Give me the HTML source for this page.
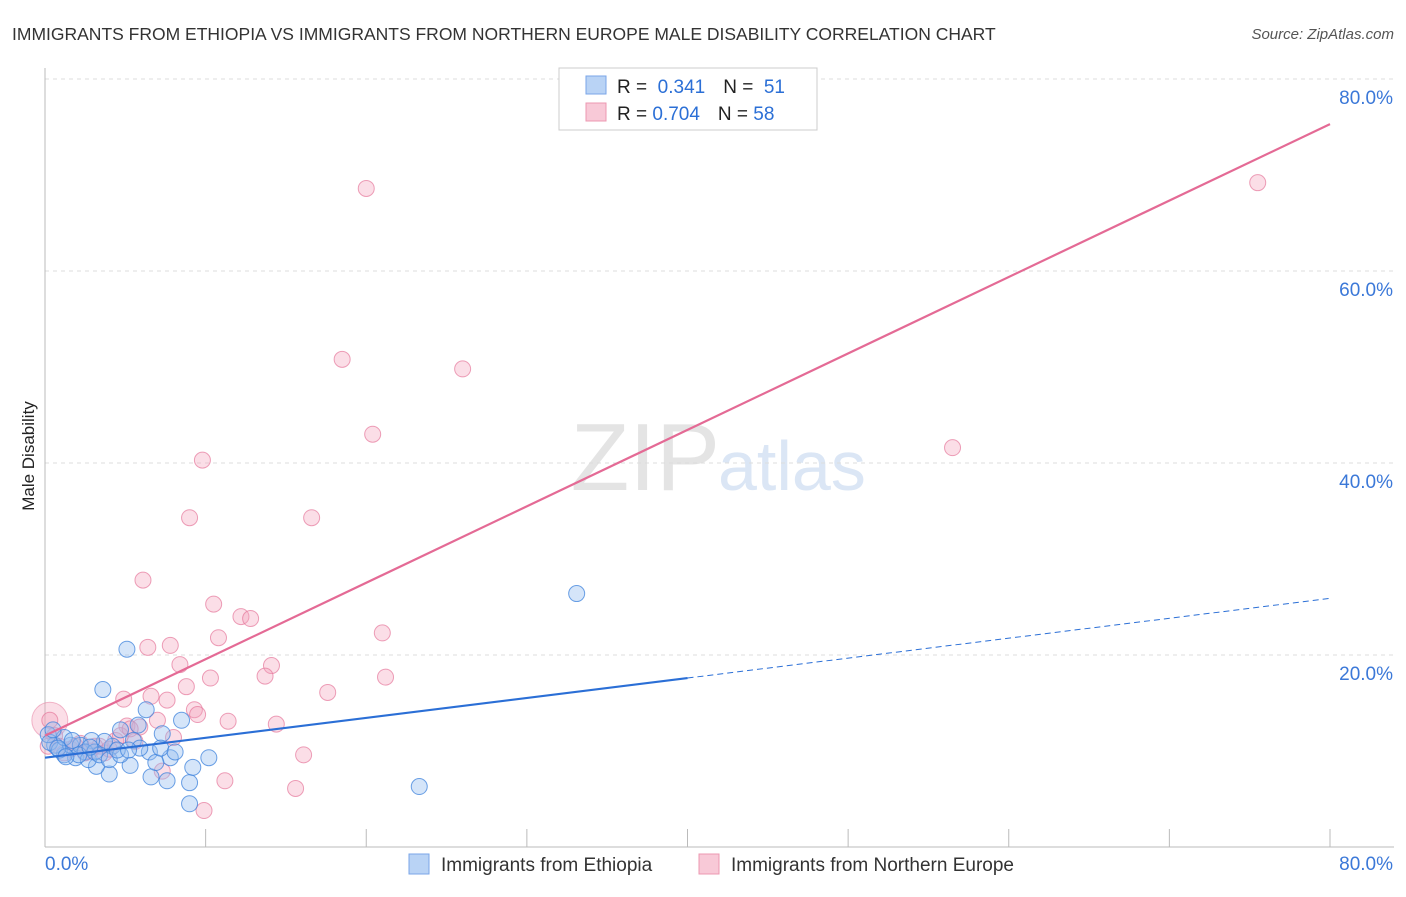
<!DOCTYPE html>
<html><head><meta charset="utf-8"><style>
body{margin:0;background:#fff;font-family:"Liberation Sans",sans-serif;}
svg text{font-family:"Liberation Sans",sans-serif;}
</style></head><body>
<svg width="1406" height="892">
<text x="12" y="40" font-size="17.5" fill="#333">IMMIGRANTS FROM ETHIOPIA VS IMMIGRANTS FROM NORTHERN EUROPE MALE DISABILITY CORRELATION CHART</text>
<text x="1394" y="39" font-size="15" fill="#555" font-style="italic" text-anchor="end">Source: ZipAtlas.com</text>
<text x="34" y="456" font-size="17" fill="#222" text-anchor="middle" transform="rotate(-90 34 456)">Male Disability</text>
<text x="720" y="490" font-size="96" fill="#e4e4e4" text-anchor="end" font-family="Liberation Serif">ZIP</text>
<text x="718" y="490" font-size="70" fill="#dbe6f5">atlas</text>
<g id="grid"></g><g id="axes"></g><g id="pts"></g><g id="lines"></g>
<g>
<rect x="559" y="68" width="258" height="62" fill="#fff" stroke="#ccc"/>
<rect x="586" y="76" width="20" height="18" fill="#b9d3f5" stroke="#7aa6e8"/>
<rect x="586" y="103" width="20" height="18" fill="#f8c9d7" stroke="#ec98b2"/>
<text x="617" y="93" font-size="19" fill="#222">R = <tspan fill="#2b6fd6">&#160;0.341</tspan><tspan dx="18">N = </tspan><tspan fill="#2b6fd6">&#160;51</tspan></text>
<text x="617" y="120" font-size="19" fill="#222">R = <tspan fill="#2b6fd6">0.704</tspan><tspan dx="18">N = </tspan><tspan fill="#2b6fd6">58</tspan></text>
</g>
<g>
<rect x="409" y="854" width="20" height="20" fill="#b9d3f5" stroke="#7aa6e8"/>
<text x="441" y="871" font-size="19" fill="#333">Immigrants from Ethiopia</text>
<rect x="699" y="854" width="20" height="20" fill="#f8c9d7" stroke="#ec98b2"/>
<text x="731" y="871" font-size="19" fill="#333">Immigrants from Northern Europe</text>
</g>
</svg>
<script>
const xTicks=[0,10,20,30,40,50,60,70,80];
const yTicks=[20,40,60,80];
const blueX=[3.6,5.1,33.1,23.3,6.3,8.5,7.3,10.2,9.0,9.0,9.2,7.6,6.6,5.3,4.0,3.2,4.2,4.7,5.8,6.5,7.8,6.9,5.5,3.7,2.9,1.9,1.2,0.6,0.2,0.3,0.9,1.6,2.2,2.5,2.7,3.1,3.4,4.0,4.7,5.9,7.2,8.1,1.2,1.7,0.8,2.1,4.5,5.2,2.8,1.3,0.5];
const blueY=[16.4,20.6,26.4,6.3,14.3,13.2,11.8,9.3,4.5,6.7,8.3,6.9,7.3,8.5,7.6,8.4,10.5,12.2,12.7,9.9,9.3,8.8,11.1,11.0,11.1,9.3,9.6,10.6,11.7,10.9,10.1,10.6,10.6,9.9,9.1,9.9,9.6,9.1,9.6,10.3,10.3,9.9,11.4,11.1,10.3,9.6,10.1,10.1,10.4,9.4,12.2];
const pinkX=[20.0,75.5,18.5,26.0,20.4,56.5,9.8,9.0,16.6,6.1,10.5,12.2,12.8,10.8,21.0,7.8,6.4,8.4,14.1,13.7,21.2,10.3,8.8,17.6,6.6,4.9,7.6,9.3,9.5,11.4,14.4,5.1,5.9,7.0,8.0,5.6,16.1,11.2,15.6,9.9,7.3,0.3,0.6,0.9,1.6,2.2,2.8,3.4,3.7,4.4,1.2,1.9,2.5,3.1,4.0,4.7,5.3,0.2];
const pinkY=[procY=68.6,69.2,50.8,49.8,43.0,41.6,40.3,34.3,34.3,27.8,25.3,24.0,23.8,21.8,22.3,21.0,20.8,19.0,18.9,17.8,17.7,17.6,16.7,16.1,15.7,15.4,15.3,14.3,13.8,13.1,12.8,12.6,12.5,13.2,11.4,11.0,9.6,6.9,6.1,3.8,7.9,13.2,11.6,10.5,10.2,10.8,10.0,10.5,9.8,11.1,9.8,10.5,9.8,10.5,10.2,11.6,12.3,10.5];
const blueLine=[9.3,25.9]; // y at x=0 and x=80
const pinkLine=[11.6,75.3];
const X0=45,X1=1330,Y0=847,Y80=79;
const sx=v=>X0+(X1-X0)*v/80, sy=v=>Y0-(Y0-Y80)*v/80;
const NS='http://www.w3.org/2000/svg';
function mk(t,a,p){const e=document.createElementNS(NS,t);for(const k in a)e.setAttribute(k,a[k]);p.appendChild(e);return e;}
const grid=document.getElementById('grid'),axes=document.getElementById('axes'),pts=document.getElementById('pts'),lines=document.getElementById('lines');
yTicks.forEach(v=>{const l=mk('line',{x1:45,x2:1394,y1:sy(v),y2:sy(v),stroke:'#ddd','stroke-dasharray':'4,4'},grid);


const t=mk('text',{x:1393,y:sy(v)+25,'font-size':19,fill:'#3b78d8','text-anchor':'end'},axes);t.textContent=v.toFixed(1)+'%';

});
const ax=mk('line',{x1:45,x2:1394,y1:Y0,y2:Y0,stroke:'#bbb'},axes);


const ay=mk('line',{x1:45,x2:45,y1:68,y2:Y0,stroke:'#bbb'},axes);


xTicks.forEach(v=>{const l=mk('line',{x1:sx(v),x2:sx(v),y1:Y0,y2:Y0-18,stroke:'#bbb'},axes);

});
[[0,'start',45],[80,'end',1393]].forEach(([v,a,x])=>{const t=mk('text',{x:x,y:870,'font-size':19,fill:'#3b78d8','text-anchor':a},axes);t.textContent=v.toFixed(1)+'%';

});
const big=mk('circle',{cx:sx(0.3),cy:sy(13.2),r:18,fill:'rgba(244,160,186,0.35)',stroke:'rgba(230,120,155,0.5)'},pts);


pinkX.forEach((x,i)=>{const c=mk('circle',{cx:sx(x),cy:sy(pinkY[i]),r:8,fill:'rgba(244,160,186,0.35)',stroke:'rgba(230,120,155,0.7)'},pts);

});
blueX.forEach((x,i)=>{const c=mk('circle',{cx:sx(x),cy:sy(blueY[i]),r:8,fill:'rgba(150,190,240,0.4)',stroke:'rgba(60,130,220,0.75)'},pts);

});
const bm=blueLine[0]+(blueLine[1]-blueLine[0])*40/80;
let l=mk('line',{x1:sx(0),y1:sy(blueLine[0]),x2:sx(40),y2:sy(bm),stroke:'#2b6fd6','stroke-width':2.2},lines);


l=mk('line',{x1:sx(40),y1:sy(bm),x2:sx(80),y2:sy(blueLine[1]),stroke:'#2b6fd6','stroke-width':1,'stroke-dasharray':'6,4'},lines);


l=mk('line',{x1:sx(0),y1:sy(pinkLine[0]),x2:sx(80),y2:sy(pinkLine[1]),stroke:'#e46a95','stroke-width':2.2},lines);


</script>
</body></html>
